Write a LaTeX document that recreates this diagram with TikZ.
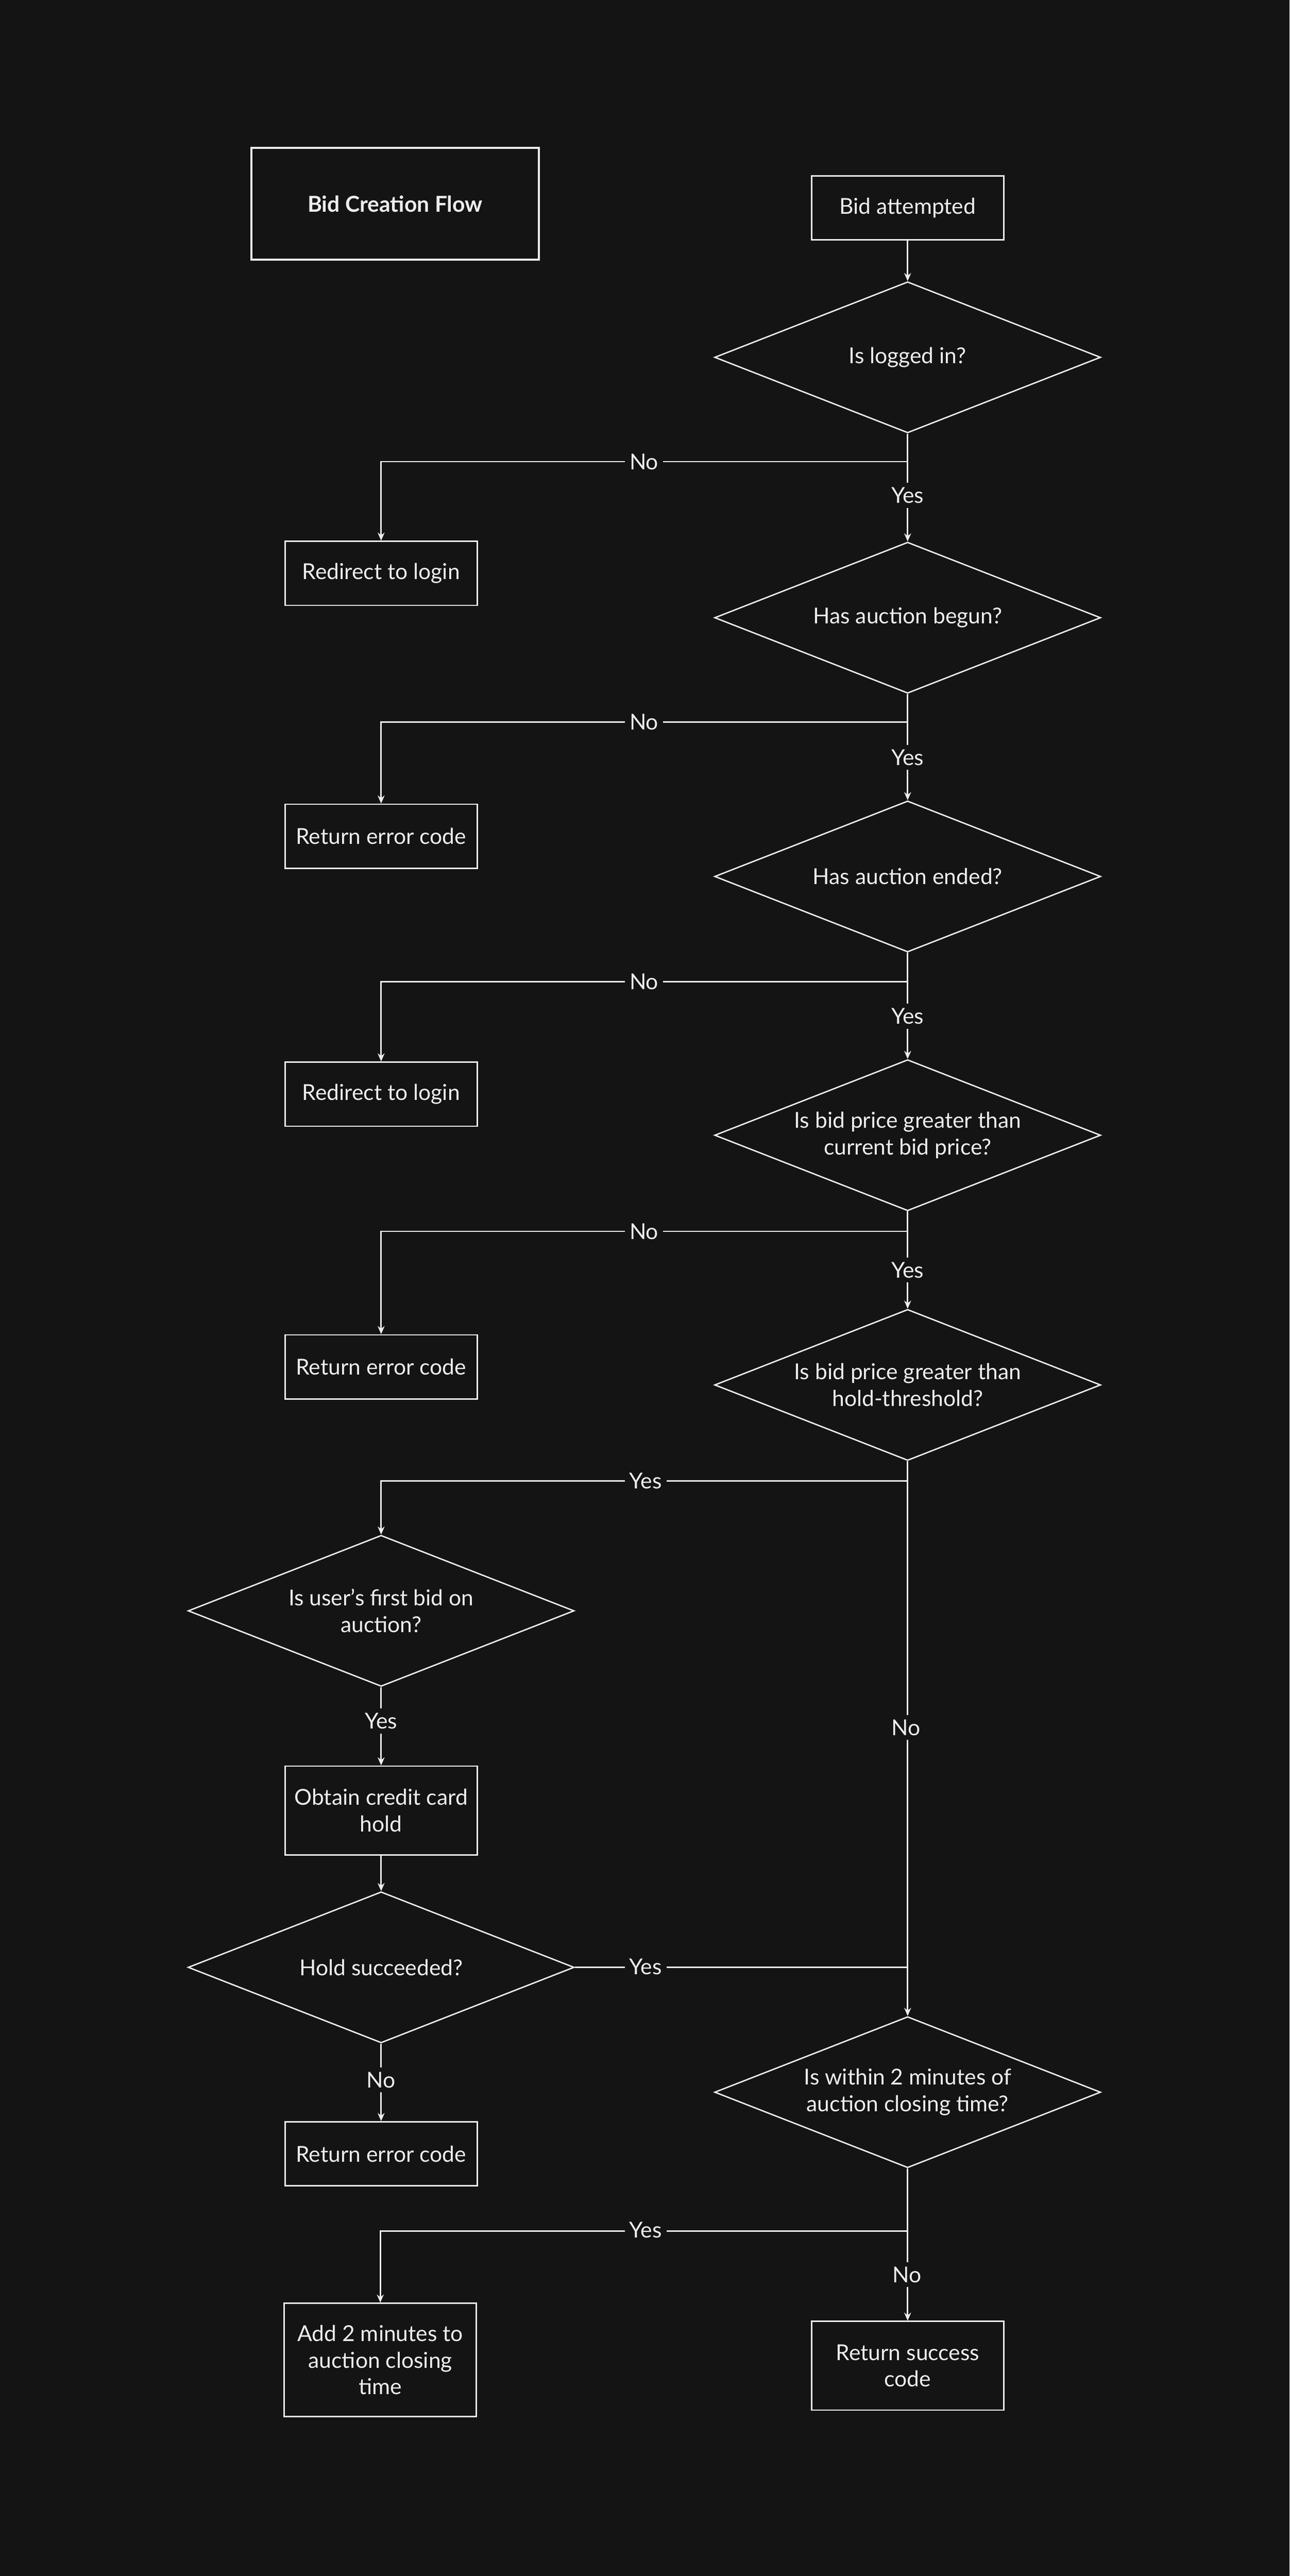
\documentclass[tikz,border=0pt]{standalone}
\usepackage{fontspec}
\setmainfont{Lato}
\usetikzlibrary{shapes.geometric,arrows.meta}
\definecolor{bg}{HTML}{141414}
\definecolor{fg}{HTML}{EDEDED}
\begin{document}
\begin{tikzpicture}[x=0.05cm,y=-0.05cm,
  every node/.style={text=fg,font=\fontsize{19}{23}\selectfont},
  box/.style={draw=fg,line width=1.2pt,minimum width=5.85cm,minimum height=1.95cm,align=center,inner sep=2pt},
  dia/.style={draw=fg,line width=1.2pt,diamond,aspect=2.55,minimum width=11.75cm,minimum height=4.6cm,inner sep=0pt,align=center},
  lab/.style={fill=bg,inner sep=4pt},
  ln/.style={draw=fg,line width=1.2pt},
  arr/.style={ln,-{Stealth[length=7pt,width=6pt]}}]
\fill[bg] (0,0) rectangle (785,1568);
\useasboundingbox (0,0) rectangle (785,1568);
\node[draw=fg,line width=2pt,minimum width=8.75cm,minimum height=3.4cm,font=\fontsize{19}{23}\selectfont\bfseries] (title) at (240.5,124) {Bid Creation Flow};
\node[box] (start) at (552.5,126.5) {Bid attempted};
\node[dia] (d1) at (552.5,217.5) {Is logged in?};
\node[dia] (d2) at (552.5,376) {Has auction begun?};
\node[dia] (d3) at (552.5,533.5) {Has auction ended?};
\node[dia] (d4) at (552.5,691) {Is bid price greater than\\current bid price?};
\node[dia] (d5) at (552.5,843) {Is bid price greater than\\hold-threshold?};
\node[dia] (d6) at (232,980.5) {Is user's first bid on\\auction?};
\node[dia] (d7) at (232,1197.5) {Hold succeeded?};
\node[dia] (d8) at (552.5,1273.5) {Is within 2 minutes of\\auction closing time?};
\node[box] (r1) at (232,349) {Redirect to login};
\node[box] (r2) at (232,509) {Return error code};
\node[box] (r3) at (232,666) {Redirect to login};
\node[box] (r4) at (232,832) {Return error code};
\node[box,minimum height=2.7cm] (hold) at (232,1102) {Obtain credit card\\hold};
\node[box] (r5) at (232,1311) {Return error code};
\node[box,minimum height=3.45cm] (add) at (231.5,1436.5) {Add 2 minutes to\\auction closing\\time};
\node[box,minimum height=2.7cm] (succ) at (552.5,1440) {Return success\\code};
\coordinate (b1) at (552.5,281);
\coordinate (b2) at (552.5,439.5);
\coordinate (b3) at (552.5,597.5);
\coordinate (b4) at (552.5,749.5);
\coordinate (b5) at (552.5,901.5);
\coordinate (j7) at (552.5,1197.5);
\coordinate (b8) at (552.5,1358);
\draw[arr] (start) -- (d1);
\draw[arr] (d1) -- (d2);
\draw[arr] (d2) -- (d3);
\draw[arr] (d3) -- (d4);
\draw[arr] (d4) -- (d5);
\draw[arr] (d5) -- (d8);
\draw[arr] (b1) -| (r1.north);
\draw[arr] (b2) -| (r2.north);
\draw[arr] (b3) -| (r3.north);
\draw[arr] (b4) -| (r4.north);
\draw[arr] (b5) -| (d6.north);
\draw[arr] (d6) -- (hold);
\draw[arr] (hold) -- (d7);
\draw[arr] (d7) -- (r5);
\draw[ln] (d7.east) -- (j7);
\draw[arr] (b8) -| (add.north);
\draw[arr] (d8) -- (succ);
\node[lab] (n1) at (392,281) {No};
\node[lab] (y1) at (552.5,301.5) {Yes};
\node[lab] (n2) at (392,439.5) {No};
\node[lab] (y2) at (552.5,461) {Yes};
\node[lab] (n3) at (392,597.5) {No};
\node[lab] (y3) at (552.5,618.5) {Yes};
\node[lab] (n4) at (392,749.5) {No};
\node[lab] (y4) at (552.5,773) {Yes};
\node[lab] (y5) at (393,901.5) {Yes};
\node[lab] (n5) at (551.5,1051.5) {No};
\node[lab] (y6) at (232,1047.5) {Yes};
\node[lab] (y7) at (393,1197) {Yes};
\node[lab] (n7) at (232,1266) {No};
\node[lab] (y8) at (393,1357.5) {Yes};
\node[lab] (n8) at (552,1384.5) {No};
\end{tikzpicture}
\end{document}
